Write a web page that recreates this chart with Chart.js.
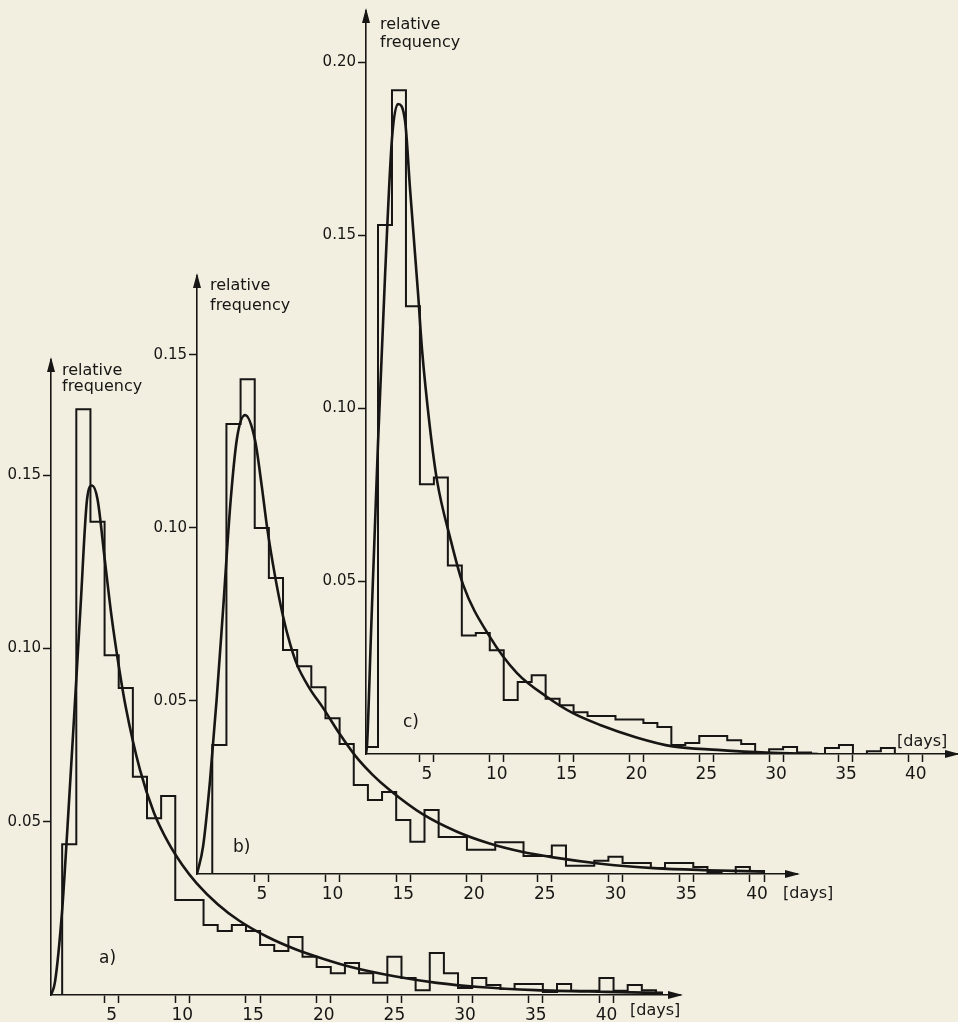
<!DOCTYPE html>
<html>
<head>
<meta charset="utf-8">
<title>Relative frequency of durations (days)</title>
<script src="https://cdn.jsdelivr.net/npm/chart.js@4/dist/chart.umd.min.js"></script>
<style>
  html, body { margin: 0; padding: 0; background: #f2eee0; }
  #sheet { position: relative; width: 958px; height: 1022px; overflow: hidden; background: #f2eee0; }
  #sheet canvas { position: absolute; left: 0; top: 0; }
</style>
</head>
<body>
<div id="sheet">
  <canvas id="panelA" width="958" height="1022"></canvas>
  <canvas id="panelB" width="958" height="1022"></canvas>
  <canvas id="panelC" width="958" height="1022"></canvas>
</div>
<script>
// ---- histogram a): one-day classes centred on whole days ----
const daysA = [1,2,3,4,5,6,7,8,9,10,11,12,13,14,15,16,17,18,19,20,21,22,23,24,25,26,27,28,29,30,31,32,33,34,35,36,37,38,39,40,41,42,43,44];
const freqA = [0,0.0435,0.169,0.1365,0.098,0.0886,0.063,0.051,0.0574,0.0274,0.0274,0.0202,0.0185,0.0202,0.0185,0.0144,0.0127,0.0167,0.011,0.0081,0.0063,0.0092,0.0063,0.0035,0.011,0.0049,0.0014,0.0121,0.0063,0.002,0.0049,0.0029,0.0017,0.0032,0.0032,0.0009,0.0032,0.0012,0.0012,0.0049,0.0012,0.0029,0.0014,0];
// fitted density a)
const fitDaysA = [0.71,0.99,1.49,1.84,2.34,2.8,3.26,3.61,4.0,4.53,5.0,5.5,6,7,8,9,10,11,12.5,14,16,18,20,22,25,28,31,35,40,44];
const fitA     = [0,0.0037,0.024,0.046,0.08,0.112,0.143,0.147,0.143,0.125,0.109,0.095,0.083,0.065,0.0525,0.044,0.0375,0.0323,0.0262,0.0215,0.0168,0.0132,0.0104,0.008,0.0054,0.0035,0.0023,0.0014,0.0009,0.0006];

// ---- histogram b) ----
const daysB = [1,2,3,4,5,6,7,8,9,10,11,12,13,14,15,16,17,18,19,20,21,22,23,24,25,26,27,28,29,30,31,32,33,34,35,36,37,38,39,40,41];
const freqB = [0,0.0373,0.130,0.143,0.100,0.0855,0.0647,0.060,0.054,0.045,0.0376,0.0257,0.0214,0.0237,0.0156,0.0093,0.0185,0.0107,0.0107,0.007,0.007,0.0092,0.0092,0.0052,0.0052,0.0082,0.0024,0.0024,0.0038,0.005,0.0032,0.0032,0.0017,0.0032,0.0032,0.002,0.0006,0,0.002,0.0009,0];
// fitted density b)
const fitDaysB = [0.42,0.85,1.34,1.8,2.24,2.8,3.25,3.82,4.52,5.0,5.37,5.94,6.5,7.0,7.49,8.4,9.33,10.5,11.6,12.8,14.06,16.4,18.8,21.1,23.3,25.6,29.1,32.7,36.5,40.5];
const fitB     = [0,0.008,0.027,0.05,0.075,0.108,0.126,0.1326,0.1254,0.112,0.1003,0.086,0.0745,0.0665,0.0605,0.0535,0.048,0.0405,0.0342,0.0288,0.0242,0.0172,0.0122,0.0088,0.0065,0.0048,0.0029,0.0017,0.0011,0.0007];

// ---- histogram c) ----
const daysC = [0,1,2,3,4,5,6,7,8,9,10,11,12,13,14,15,16,17,18,19,20,21,22,23,24,25,26,27,28,29,30,31,32,33,34,35,36,37,38,39];
const freqC = [0,0.002,0.153,0.192,0.1295,0.078,0.080,0.0545,0.0343,0.035,0.030,0.0156,0.0208,0.0228,0.016,0.0141,0.0121,0.011,0.011,0.010,0.010,0.009,0.0078,0.0026,0.0032,0.0052,0.0052,0.004,0.0029,0.0003,0.0014,0.002,0.0004,0,0.0017,0.0026,0,0.0008,0.0017,0];
// fitted density c)
const fitDaysC = [0.64,0.72,1.0,1.5,2.0,2.5,2.93,3.44,3.79,4.37,4.65,5.2,5.73,6.66,7.59,9.52,11.45,13.6,15.46,17.4,20.0,22.6,25.8,29.3,33.0];
const fitC     = [0,0.003,0.035,0.09,0.138,0.178,0.188,0.183,0.1636,0.133,0.117,0.095,0.079,0.0626,0.049,0.0338,0.0234,0.0165,0.0118,0.0084,0.0048,0.0022,0.0012,0.0004,0];

// ---- axis ticks ----
const dayLabels = [5,10,15,20,25,30,35,40];
const yTicksA = [0.05,0.10,0.15];
const yTicksB = [0.05,0.10,0.15];
const yTicksC = [0.05,0.10,0.15,0.20];

const INK = '#171614';
const FONT = '"DejaVu Sans", "Liberation Sans", sans-serif';
const Y_AXIS_W = 60;   // room reserved for the value labels
const X_AXIS_H = 27;   // room reserved for the day labels

// Each labelled day is marked by a pair of ticks at the edges of its class.
const dayTickValues = dayLabels.flatMap(k => [k - 0.5, k, k + 0.5]);

// Arrowheads, axis caption, unit and panel letter.
const panelDecor = {
  id: 'panelDecor',
  afterDraw(chart, args, o) {
    const { ctx, chartArea: a } = chart;
    ctx.save();
    ctx.fillStyle = INK;
    ctx.beginPath();
    ctx.moveTo(a.left, a.top - 3);
    ctx.lineTo(a.left - 4, a.top + 12);
    ctx.lineTo(a.left + 4, a.top + 12);
    ctx.closePath();
    ctx.fill();
    ctx.beginPath();
    ctx.moveTo(a.right + 3, a.bottom);
    ctx.lineTo(a.right - 12, a.bottom - 4);
    ctx.lineTo(a.right - 12, a.bottom + 4);
    ctx.closePath();
    ctx.fill();
    ctx.font = '16px ' + FONT;
    ctx.textAlign = 'left';
    ctx.textBaseline = 'alphabetic';
    o.caption.forEach((line, i) => ctx.fillText(line, a.left + o.capDx, a.top + o.capDy + i * o.capLead));
    ctx.fillText(o.unit, a.right + o.unitDx, a.bottom + o.unitDy);
    ctx.font = '17px ' + FONT;
    ctx.fillText(o.tag, a.left + o.tagDx, a.bottom + o.tagDy);
    ctx.restore();
  }
};

function points(xs, ys) { return xs.map((x, i) => ({ x: x, y: ys[i] })); }

function drawPanel(id, box, histDays, histFreq, fitDays, fitVals, yTicks, deco) {
  const canvas = document.getElementById(id);
  const W = canvas.width, H = canvas.height;
  return new Chart(canvas, {
    type: 'line',
    data: {
      datasets: [
        { data: points(histDays, histFreq), stepped: 'middle', borderColor: INK, borderWidth: 2, pointRadius: 0, fill: false },
        { data: points(fitDays, fitVals), cubicInterpolationMode: 'monotone', borderColor: INK, borderWidth: 2.6, pointRadius: 0, fill: false }
      ]
    },
    options: {
      responsive: false,
      animation: false,
      devicePixelRatio: 1,
      layout: { padding: { left: box.left - Y_AXIS_W, top: box.top, right: W - box.right, bottom: H - box.bottom - X_AXIS_H } },
      plugins: {
        legend: { display: false },
        tooltip: { enabled: false },
        panelDecor: deco
      },
      scales: {
        x: {
          type: 'linear', bounds: 'data', min: box.xMin, max: box.xMax,
          afterFit: s => { s.height = X_AXIS_H; },
          afterBuildTicks: s => { s.ticks = dayTickValues.map(v => ({ value: v })); },
          ticks: {
            autoSkip: false, maxRotation: 0, minRotation: 0, padding: 2, color: INK,
            font: { family: FONT, size: 17 },
            callback: v => dayLabels.includes(v) ? String(v) : ''
          },
          grid: {
            display: true, drawOnChartArea: false, drawTicks: true, tickLength: 8, tickWidth: 1.5,
            tickColor: c => (c.tick && !dayLabels.includes(c.tick.value)) ? INK : 'rgba(0,0,0,0)'
          },
          border: { display: true, color: INK, width: 1.6 }
        },
        y: {
          type: 'linear', bounds: 'data', min: 0, max: box.yMax,
          afterFit: s => { s.width = Y_AXIS_W; },
          afterBuildTicks: s => { s.ticks = yTicks.map(v => ({ value: v })); },
          ticks: { padding: 2, color: INK, font: { family: FONT, size: 15 }, callback: v => v.toFixed(2) },
          grid: { display: true, drawOnChartArea: false, drawTicks: true, tickLength: 8, tickWidth: 1.5, tickColor: INK },
          border: { display: true, color: INK, width: 1.6 }
        }
      }
    },
    plugins: [panelDecor]
  });
}

drawPanel('panelA',
  { left: 51, top: 360, right: 680, bottom: 995, xMin: 0.71, xMax: 45.2, yMax: 0.1832 },
  daysA, freqA, fitDaysA, fitA, yTicksA,
  { caption: ['relative', 'frequency'], capDx: 11, capDy: 15, capLead: 16, unit: '[days]', unitDx: -50, unitDy: 20, tag: 'a)', tagDx: 48, tagDy: -32 });

drawPanel('panelB',
  { left: 197, top: 276, right: 797, bottom: 874, xMin: 0.42, xMax: 42.83, yMax: 0.1728 },
  daysB, freqB, fitDaysB, fitB, yTicksB,
  { caption: ['relative', 'frequency'], capDx: 13, capDy: 14, capLead: 20, unit: '[days]', unitDx: -14, unitDy: 24, tag: 'b)', tagDx: 36, tagDy: -22 });

drawPanel('panelC',
  { left: 366, top: 9, right: 957, bottom: 754, xMin: 0.64, xMax: 42.95, yMax: 0.2149 },
  daysC, freqC, fitDaysC, fitC, yTicksC,
  { caption: ['relative', 'frequency'], capDx: 14, capDy: 18, capLead: 18, unit: '[days]', unitDx: -60, unitDy: -8, tag: 'c)', tagDx: 37, tagDy: -27 });
</script>
</body>
</html>
